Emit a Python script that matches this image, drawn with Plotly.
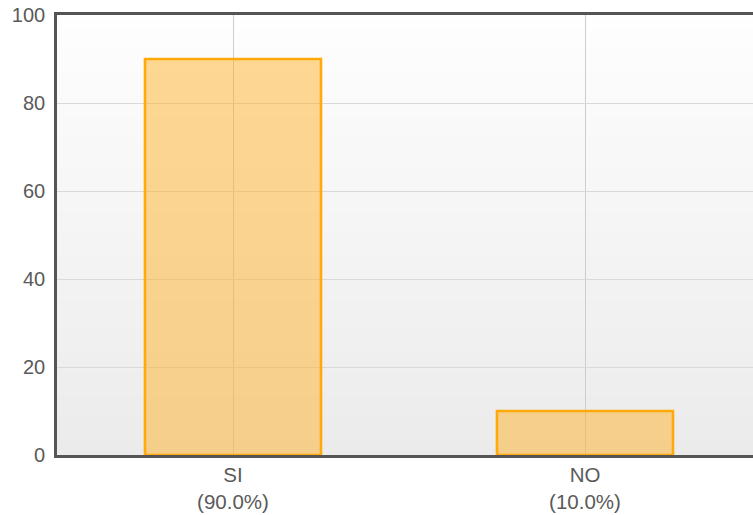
import plotly.graph_objects as go

# Survey answers and their counts
categories = ["SI", "NO"]
values = [90, 10]
y_ticks = [0, 20, 40, 60, 80, 100]

total = sum(values)
tick_text = [f"{c}<br>({v / total * 100:.1f}%)" for c, v in zip(categories, values)]
x_pos = list(range(len(categories)))

fig = go.Figure()
fig.add_trace(go.Bar(
    x=x_pos,
    y=values,
    width=0.5,
    marker=dict(color="rgba(255,178,40,0.5)",
                line=dict(color="#FFAA0A", width=2.6)),
    hoverinfo="skip",
))

# Soft vertical gradient behind the plot area
shapes = []
n = 60
top = (254, 254, 254)
bot = (235, 235, 235)
for i in range(n):
    t = (i + 0.5) / n
    c = tuple(round(top[k] + (bot[k] - top[k]) * t) for k in range(3))
    shapes.append(dict(
        type="rect", xref="x domain", yref="y domain",
        x0=0, x1=1, y0=1 - (i + 1) / n, y1=1 - i / n + 0.002,
        fillcolor=f"rgb{c}", line=dict(width=0), layer="below",
    ))

fig.update_layout(
    width=753, height=515,
    margin=dict(l=57, r=0, t=15, b=60),
    paper_bgcolor="white",
    plot_bgcolor="rgba(0,0,0,0)",
    showlegend=False,
    shapes=shapes,
    font=dict(family="Liberation Sans, Arial, sans-serif", size=20, color="#5a5a5a"),
    xaxis=dict(
        range=[-0.5, 1.5 - 8 / 352],
        tickvals=x_pos, ticktext=tick_text,
        showgrid=True, gridcolor="#cdcdcd", gridwidth=1,
        showline=True, linecolor="#555555", linewidth=2.6, mirror=True,
        ticks="", zeroline=False, fixedrange=True,
        tickfont=dict(size=20.5, color="#5a5a5a"),
    ),
    yaxis=dict(
        range=[0, 100], tickvals=y_ticks,
        showgrid=True, gridcolor="#d9d9d9", gridwidth=1,
        showline=True, linecolor="#555555", linewidth=2.6,
        ticks="", zeroline=False, ticklabelstandoff=5,
        tickfont=dict(size=20, color="#5a5a5a"),
    ),
)

fig.write_html("out.html")
